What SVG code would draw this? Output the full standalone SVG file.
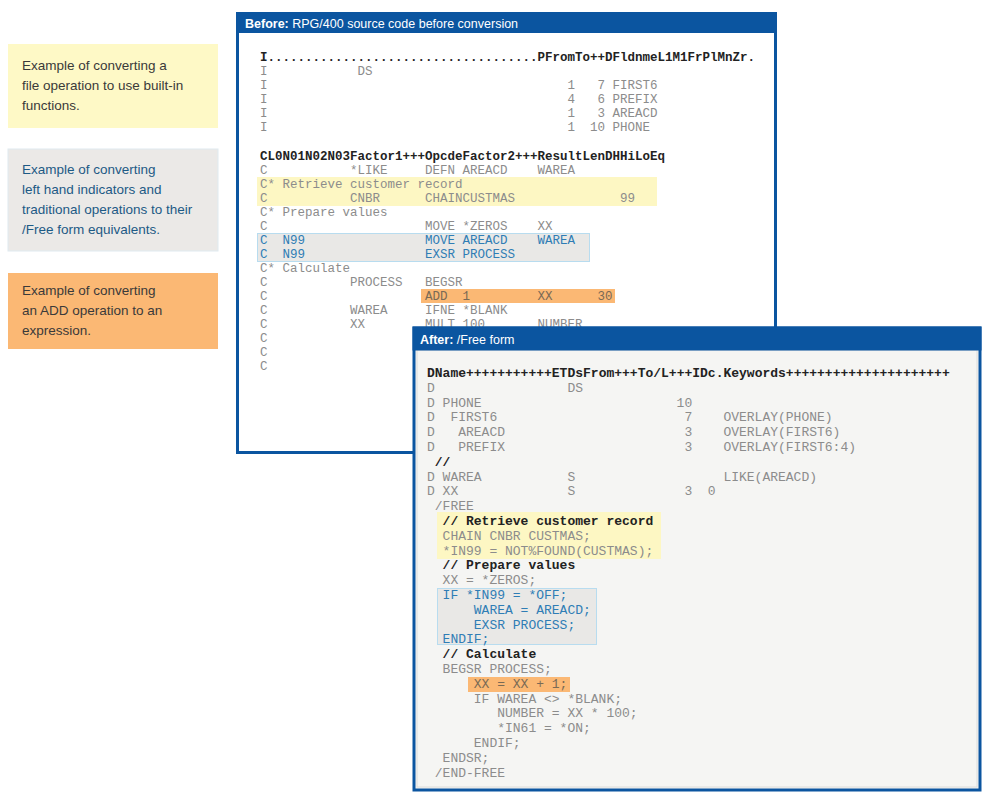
<svg xmlns="http://www.w3.org/2000/svg" width="1000" height="800" viewBox="0 0 1000 800">
<style>
.lg{font-family:"Liberation Sans",Arial,sans-serif;font-size:13.5px;fill:#3a3a3a}
.lgb{font-family:"Liberation Sans",Arial,sans-serif;font-size:13.5px;fill:#1d5a85}
.hd{font-family:"Liberation Sans",Arial,sans-serif;font-size:12.5px;fill:#fff}
.hb{font-weight:bold}
.cb{font-family:"Liberation Mono","Courier New",monospace;font-size:12.5px;fill:#8c8c8c;white-space:pre}
.ca{font-family:"Liberation Mono","Courier New",monospace;font-size:13px;fill:#8c8c8c;white-space:pre}
.bold{font-weight:bold;fill:#222}
.blue{fill:#2f7db5}
.brn{fill:#7a6a55}
.panel{stroke:#0b55a0;stroke-width:3}
.bar{fill:#0b55a0}
</style>
<rect width="1000" height="800" fill="#fff"/>

<g id="legend-file-op">
<rect x="8" y="44" width="210" height="84" fill="#fef9c6"/>
<text class="lg" x="22" y="70">Example of converting a</text>
<text class="lg" x="22" y="90">file operation to use built-in</text>
<text class="lg" x="22" y="110">functions.</text>
</g>
<g id="legend-indicators">
<rect x="8" y="149" width="210" height="102" fill="#ebe9e7" stroke="#dfeaf0" stroke-width="1"/>
<text class="lgb" x="22" y="174">Example of converting</text>
<text class="lgb" x="22" y="194">left hand indicators and</text>
<text class="lgb" x="22" y="214">traditional operations to their</text>
<text class="lgb" x="22" y="234">/Free form equivalents.</text>
</g>
<g id="legend-add">
<rect x="8" y="273" width="210" height="76" fill="#fbb874"/>
<text class="lg" x="22" y="295">Example of converting</text>
<text class="lg" x="22" y="315">an ADD operation to an</text>
<text class="lg" x="22" y="335">expression.</text>
</g>

<g id="before-panel">
<rect class="panel" x="237.5" y="13.5" width="538" height="439" fill="#fff"/>
<rect class="bar" x="236" y="12" width="541" height="21"/>
<text class="hd" x="245" y="27.5"><tspan class="hb">Before:</tspan> RPG/400 source code before conversion</text>
<rect x="257" y="177" width="400" height="29" fill="#fdf7c3"/>
<rect x="257.5" y="233.5" width="332" height="28" fill="#e9e8e6" stroke="#b8dcef" stroke-width="1"/>
<rect x="421" y="289" width="194" height="14" fill="#fbb874"/>
<g xml:space="preserve">
<text class="cb bold" x="260" y="61">I....................................PFromTo++DFldnmeL1M1FrPlMnZr.</text>
<text class="cb" y="75"><tspan x="260">I</tspan><tspan x="357.5">DS</tspan></text>
<text class="cb" y="89"><tspan x="260">I</tspan><tspan x="567.5">1</tspan><tspan x="597.5">7</tspan><tspan x="612.5">FIRST6</tspan></text>
<text class="cb" y="103"><tspan x="260">I</tspan><tspan x="567.5">4</tspan><tspan x="597.5">6</tspan><tspan x="612.5">PREFIX</tspan></text>
<text class="cb" y="117"><tspan x="260">I</tspan><tspan x="567.5">1</tspan><tspan x="597.5">3</tspan><tspan x="612.5">AREACD</tspan></text>
<text class="cb" y="131"><tspan x="260">I</tspan><tspan x="567.5">1</tspan><tspan x="590">10</tspan><tspan x="612.5">PHONE</tspan></text>
<text class="cb bold" x="260" y="160">CL0N01N02N03Factor1+++OpcdeFactor2+++ResultLenDHHiLoEq</text>
<text class="cb" y="174"><tspan x="260">C</tspan><tspan x="350">*LIKE</tspan><tspan x="425">DEFN AREACD</tspan><tspan x="537.5">WAREA</tspan></text>
<text class="cb" x="260" y="188">C* Retrieve customer record</text>
<text class="cb" y="202"><tspan x="260">C</tspan><tspan x="350">CNBR</tspan><tspan x="425">CHAINCUSTMAS</tspan><tspan x="620">99</tspan></text>
<text class="cb" x="260" y="216">C* Prepare values</text>
<text class="cb" y="230"><tspan x="260">C</tspan><tspan x="425">MOVE *ZEROS</tspan><tspan x="537.5">XX</tspan></text>
<text class="cb blue" y="244"><tspan x="260">C</tspan><tspan x="282.5">N99</tspan><tspan x="425">MOVE AREACD</tspan><tspan x="537.5">WAREA</tspan></text>
<text class="cb blue" y="258"><tspan x="260">C</tspan><tspan x="282.5">N99</tspan><tspan x="425">EXSR PROCESS</tspan></text>
<text class="cb" x="260" y="272">C* Calculate</text>
<text class="cb" y="286"><tspan x="260">C</tspan><tspan x="350">PROCESS</tspan><tspan x="425">BEGSR</tspan></text>
<text class="cb" y="300"><tspan x="260">C</tspan><tspan class="brn" x="425">ADD  1</tspan><tspan class="brn" x="537.5">XX</tspan><tspan class="brn" x="597.5">30</tspan></text>
<text class="cb" y="314"><tspan x="260">C</tspan><tspan x="350">WAREA</tspan><tspan x="425">IFNE *BLANK</tspan></text>
<text class="cb" y="328"><tspan x="260">C</tspan><tspan x="350">XX</tspan><tspan x="425">MULT 100</tspan><tspan x="537.5">NUMBER</tspan></text>
<text class="cb" x="260" y="342">C</text>
<text class="cb" x="260" y="356">C</text>
<text class="cb" x="260" y="370">C</text>
</g>
</g>

<g id="after-panel">
<rect class="panel" x="414" y="328" width="566" height="462" fill="#f5f5f3"/>
<rect x="417" y="350" width="560" height="437" fill="none" stroke="#dcdcda" stroke-width="1"/>
<rect class="bar" x="412.5" y="326.5" width="569" height="24"/>
<text class="hd" x="420" y="343.5"><tspan class="hb">After:</tspan> /Free form</text>
<rect x="437" y="512" width="224" height="47" fill="#fdf7c3"/>
<rect x="437.5" y="588.5" width="159" height="56" fill="#e9e8e6" stroke="#b8dcef" stroke-width="1"/>
<rect x="468" y="677" width="102" height="15" fill="#fbb874"/>
<g xml:space="preserve">
<text class="ca bold" x="427" y="377">DName+++++++++++ETDsFrom+++To/L+++IDc.Keywords+++++++++++++++++++++</text>
<text class="ca" y="392"><tspan x="427">D</tspan><tspan x="567.4">DS</tspan></text>
<text class="ca" y="406.6"><tspan x="427">D</tspan><tspan x="442.6">PHONE</tspan><tspan x="676.6">10</tspan></text>
<text class="ca" y="421.4"><tspan x="427">D</tspan><tspan x="450.4">FIRST6</tspan><tspan x="684.4">7</tspan><tspan x="723.4">OVERLAY(PHONE)</tspan></text>
<text class="ca" y="436.2"><tspan x="427">D</tspan><tspan x="458.2">AREACD</tspan><tspan x="684.4">3</tspan><tspan x="723.4">OVERLAY(FIRST6)</tspan></text>
<text class="ca" y="451"><tspan x="427">D</tspan><tspan x="458.2">PREFIX</tspan><tspan x="684.4">3</tspan><tspan x="723.4">OVERLAY(FIRST6:4)</tspan></text>
<text class="ca bold" x="434.8" y="465.8">//</text>
<text class="ca" y="480.6"><tspan x="427">D</tspan><tspan x="442.6">WAREA</tspan><tspan x="567.4">S</tspan><tspan x="723.4">LIKE(AREACD)</tspan></text>
<text class="ca" y="495.4"><tspan x="427">D</tspan><tspan x="442.6">XX</tspan><tspan x="567.4">S</tspan><tspan x="684.4">3</tspan><tspan x="707.8">0</tspan></text>
<text class="ca" x="434.8" y="510.2">/FREE</text>
<text class="ca bold" x="442.6" y="525">// Retrieve customer record</text>
<text class="ca" x="442.6" y="539.8">CHAIN CNBR CUSTMAS;</text>
<text class="ca" x="442.6" y="554.6">*IN99 = NOT%FOUND(CUSTMAS);</text>
<text class="ca bold" x="442.6" y="569.4">// Prepare values</text>
<text class="ca" x="442.6" y="584.2">XX = *ZEROS;</text>
<text class="ca blue" x="442.6" y="599">IF *IN99 = *OFF;</text>
<text class="ca blue" x="473.8" y="613.8">WAREA = AREACD;</text>
<text class="ca blue" x="473.8" y="628.6">EXSR PROCESS;</text>
<text class="ca blue" x="442.6" y="643.4">ENDIF;</text>
<text class="ca bold" x="442.6" y="658.2">// Calculate</text>
<text class="ca" x="442.6" y="673">BEGSR PROCESS;</text>
<text class="ca brn" x="473.8" y="687.8">XX = XX + 1;</text>
<text class="ca" x="473.8" y="702.6">IF WAREA &lt;&gt; *BLANK;</text>
<text class="ca" x="497.2" y="717.4">NUMBER = XX * 100;</text>
<text class="ca" x="497.2" y="732.2">*IN61 = *ON;</text>
<text class="ca" x="473.8" y="747">ENDIF;</text>
<text class="ca" x="442.6" y="761.8">ENDSR;</text>
<text class="ca" x="434.8" y="776.6">/END-FREE</text>
</g>
</g>

<g id="connectors"/>
</svg>
